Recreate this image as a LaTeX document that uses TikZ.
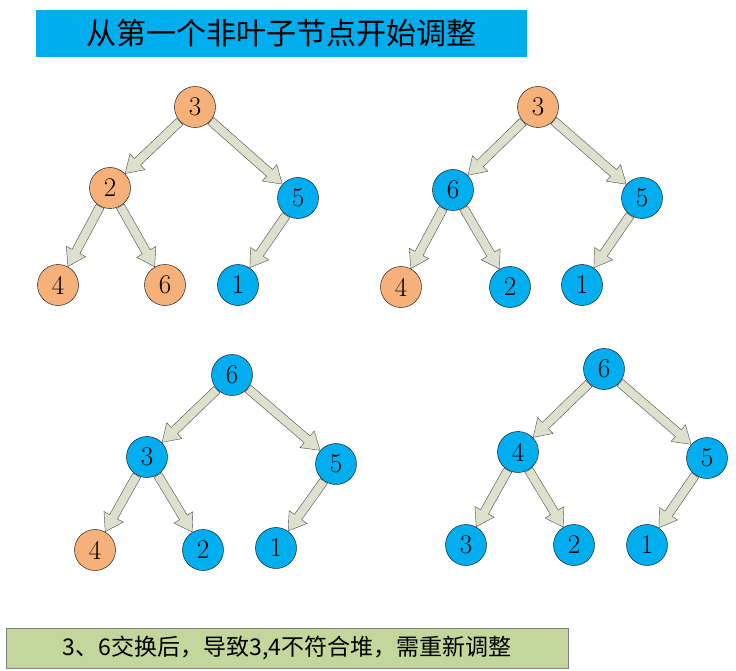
\documentclass[tikz,border=0pt]{standalone}
\usepackage{fontspec}
\newfontfamily\cjk{Noto Sans CJK SC}
\usetikzlibrary{calc}
\definecolor{heaporange}{HTML}{F6B07A}
\definecolor{heapblue}{HTML}{00AEEF}
\definecolor{arrowfill}{HTML}{DDE0CC}
\definecolor{titlebox}{HTML}{00AEEF}
\definecolor{notebox}{HTML}{C3D69B}
\tikzset{
  hnode/.style={circle,draw,thin,minimum size=41pt,inner sep=0pt,font=\fontsize{27}{27}\selectfont},
  orn/.style={hnode,fill=heaporange},
  blu/.style={hnode,fill=heapblue},
}
% block arrow from node #1 to node #2
\newcommand\blockarrow[2]{%
  \path ($(#1)!21pt!(#2)$) coordinate (s) ($(#2)!21pt!(#1)$) coordinate (t)
        ($(t)!17pt!(s)$) coordinate (h);
  \filldraw[draw=black!70,fill=arrowfill,line join=miter]
    ($(s)!4.5pt!90:(t)$) -- ($(h)!4.5pt!-90:(s)$) -- ($(h)!11pt!-90:(s)$) -- (t)
    -- ($(h)!11pt!90:(s)$) -- ($(h)!4.5pt!90:(s)$) -- ($(s)!4.5pt!-90:(t)$) -- cycle;}
\begin{document}
\begin{tikzpicture}[x=1pt,y=-1pt]
\useasboundingbox (0,0) rectangle (736,671);
% title and note
\node[fill=titlebox,minimum width=491pt,minimum height=47pt,inner sep=0pt,font=\cjk\fontsize{30}{30}\selectfont] (title) at (281.5,33.5) {从第一个非叶子节点开始调整};
\node[fill=notebox,draw=black!50,minimum width=562pt,minimum height=40pt,inner sep=0pt,font=\cjk\fontsize{23}{23}\selectfont] (note) at (287,648) {3、6交换后，导致3,4不符合堆，需重新调整};
% tree a
\node[orn] (a3) at (195,107) {3};
\node[orn] (a2) at (110,188) {2};
\node[blu] (a5) at (298,198) {5};
\node[orn] (a4) at (58,285) {4};
\node[orn] (a6) at (165,285) {6};
\node[blu] (a1) at (238,285) {1};
% tree b
\node[orn] (b3) at (538,107) {3};
\node[blu] (b6) at (453,190) {6};
\node[blu] (b5) at (642,198) {5};
\node[orn] (b4) at (401,287) {4};
\node[blu] (b2) at (510,287) {2};
\node[blu] (b1) at (582,285) {1};
% tree c
\node[blu] (c6) at (232,375) {6};
\node[blu] (c3) at (147,457) {3};
\node[blu] (c5) at (336,464) {5};
\node[orn] (c4) at (95,550) {4};
\node[blu] (c2) at (203,550) {2};
\node[blu] (c1) at (276,548) {1};
% tree d
\node[blu] (d6) at (604,369) {6};
\node[blu] (d4) at (518,452) {4};
\node[blu] (d5) at (707,458) {5};
\node[blu] (d3) at (466,545) {3};
\node[blu] (d2) at (574,545) {2};
\node[blu] (d1) at (647,545) {1};
\foreach \p/\c in {a3/a2,a3/a5,a2/a4,a2/a6,a5/a1,
                   b3/b6,b3/b5,b6/b4,b6/b2,b5/b1,
                   c6/c3,c6/c5,c3/c4,c3/c2,c5/c1,
                   d6/d4,d6/d5,d4/d3,d4/d2,d5/d1}
  \blockarrow{\p}{\c};
\end{tikzpicture}
\end{document}
